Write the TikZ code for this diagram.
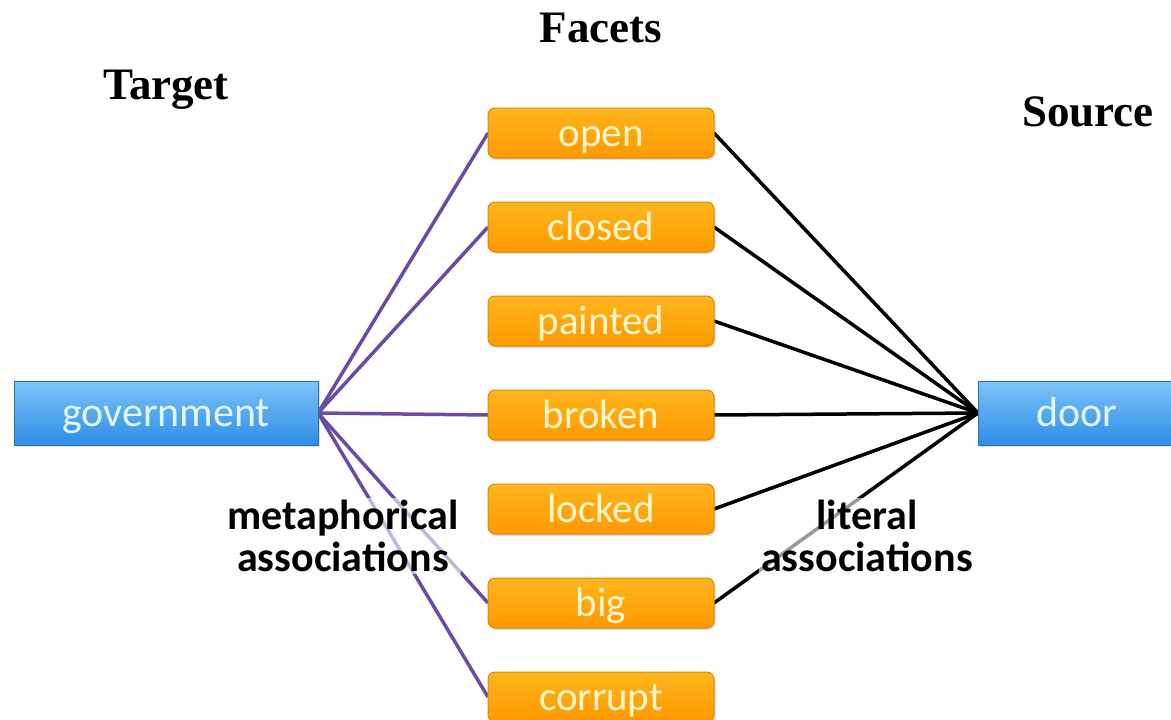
\documentclass[tikz,border=0pt]{standalone}
\usepackage{fontspec}
\setmainfont{Carlito}
\newfontfamily\headfont{Liberation Serif}
\usetikzlibrary{shadows}
\definecolor{orTop}{HTML}{FFB61E}
\definecolor{orBot}{HTML}{FF9800}
\definecolor{orEdge}{HTML}{E08A00}
\definecolor{blTop}{HTML}{7CC4F8}
\definecolor{blBot}{HTML}{2E8DE6}
\definecolor{blEdge}{HTML}{2A6FBF}
\definecolor{purp}{HTML}{6B4BA3}
\definecolor{boxtxt}{HTML}{FFF6CC}
\definecolor{bluetxt}{HTML}{E4F6FF}
\tikzset{
  facet/.style={draw=orEdge, line width=1pt, rounded corners=7pt, top color=orTop, bottom color=orBot,
    minimum width=226pt, minimum height=50pt, inner sep=0pt, text=boxtxt,
    text height=26pt, text depth=0pt,
    font=\fontsize{41}{42}\selectfont, drop shadow={shadow xshift=1.5pt, shadow yshift=-2pt, opacity=0.25}},
  endbox/.style={draw=blEdge, line width=1pt, top color=blTop, bottom color=blBot,
    minimum height=64pt, inner sep=0pt, text=bluetxt,
    text height=27pt, text depth=0pt,
    font=\fontsize{42}{42}\selectfont, drop shadow={shadow xshift=1.5pt, shadow yshift=-2pt, opacity=0.25}},
  head/.style={font=\headfont\bfseries\fontsize{45}{46}\selectfont, text=black},
  assoc/.style={font=\bfseries\fontsize{42}{42}\selectfont, align=center, fill=white, fill opacity=0.6, text opacity=1, inner sep=2pt},
  meta/.style={draw=purp, line width=3.5pt},
  lit/.style={draw=black, line width=3.5pt},
}
\begin{document}
\begin{tikzpicture}[x=1pt,y=-1pt]
\useasboundingbox (0,0) rectangle (1171,720);
% heads
\node[head] (facets) at (601,28) {Facets};
\node[head] (target) at (166,90) {Target};
\node[head] (source) at (1088,112) {Source};
% line end points on the boxes
\coordinate (gE) at (318,413);
\coordinate (dW) at (978,413);
\foreach \n/\y in {open/133,closed/227,painted/321,broken/415,locked/509,big/603,corrupt/697}{
  \coordinate (\n W) at (488,\y);
  \coordinate (\n E) at (714,\y);
}
% connectors
\foreach \n in {open,closed,broken,big,corrupt}{
  \draw[meta] (gE) -- (\n W);
}
\foreach \n in {open,closed,painted,broken,locked,big}{
  \draw[lit] (dW) -- (\n E);
}
% labels
\node[assoc] (metaL) at (343,536) {metaphorical\\associations};
\node[assoc] (litL) at (867,536) {literal\\associations};
% facet boxes
\node[facet] (open) at (601,133) {open};
\node[facet] (closed) at (601,227) {closed};
\node[facet] (painted) at (601,321) {painted};
\node[facet] (broken) at (601,415) {broken};
\node[facet] (locked) at (601,509) {locked};
\node[facet] (big) at (601,603) {big};
\node[facet] (corrupt) at (601,697) {corrupt};
\node[endbox, minimum width=304pt] (gov) at (166,413) {government};
\node[endbox, minimum width=206pt] (door) at (1081,413) {\hspace*{-8pt}door};
\end{tikzpicture}
\end{document}
